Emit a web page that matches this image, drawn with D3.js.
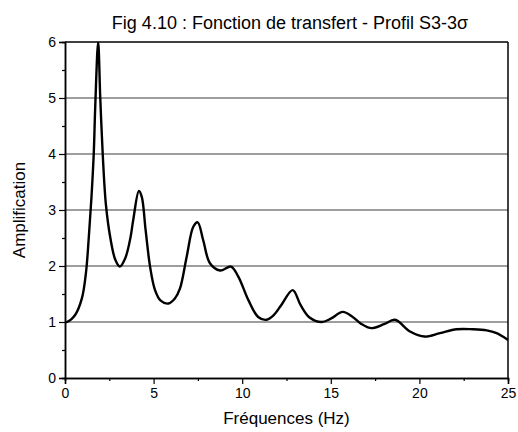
<!DOCTYPE html>
<html>
<head>
<meta charset="utf-8">
<script src="https://cdn.jsdelivr.net/npm/d3@7"></script>
<style>
  html, body { margin: 0; padding: 0; background: #fff; }
  svg { display: block; font-family: "Liberation Sans", Arial, sans-serif; }
</style>
</head>
<body>
<svg id="chart" width="518" height="432"></svg>
<script>
// Transfer function, profile S3-3σ: amplification versus frequency
const freqHz = [
  0.0, 0.11, 0.58, 0.96, 1.19, 1.34, 1.49, 1.62, 1.71, 1.87, 1.99, 2.13, 2.31, 2.56, 2.84, 3.09,
  3.4, 3.69, 3.85, 4.17, 4.33, 4.55, 4.8, 5.08, 5.4, 5.83, 6.2, 6.49, 6.87, 7.24, 7.49, 7.8, 8.18,
  8.75, 9.37, 9.78, 10.35, 10.9, 11.37, 11.8, 12.2, 12.85, 13.3, 13.8, 14.48, 15.0, 15.67,
  16.2, 16.7, 17.3, 18.0, 18.62, 19.47, 20.3, 21.16, 22.1, 23.0, 23.8, 24.36, 25.0
];
const amplification = [
  1.0, 1.0, 1.13, 1.43, 1.9, 2.5, 3.21, 3.99, 4.88, 6.0, 5.0, 3.99, 3.09, 2.5, 2.11, 1.99,
  2.14, 2.5, 2.82, 3.34, 3.24, 2.64, 1.99, 1.57, 1.38, 1.33, 1.42, 1.6, 2.17, 2.7, 2.78, 2.46, 2.05,
  1.92, 1.99, 1.81, 1.39, 1.09, 1.04, 1.13, 1.3, 1.57, 1.3, 1.08, 1.0, 1.06, 1.18,
  1.1, 0.97, 0.89, 0.96, 1.04, 0.83, 0.74, 0.8, 0.87, 0.87, 0.85, 0.8, 0.68
];
const xTicks = [0, 5, 10, 15, 20, 25];
const xMinorTicks = [2.5, 7.5, 12.5, 17.5, 22.5];
const yTicks = [0, 1, 2, 3, 4, 5, 6];
const yMinorTicks = [0.5, 1.5, 2.5, 3.5, 4.5, 5.5];
const gridValues = [1, 2, 3, 4, 5];

const titleText = "Fig 4.10 : Fonction de transfert - Profil S3-3σ";
const xTitle = "Fréquences (Hz)";
const yTitle = "Amplification";

const svg = d3.select("#chart");
const m = { left: 65, right: 508, top: 42, bottom: 378 };

const x = d3.scaleLinear().domain([0, 25]).range([m.left, m.right]);
const y = d3.scaleLinear().domain([0, 6]).range([m.bottom, m.top]);

// horizontal grid lines
svg.append("g")
  .selectAll("line")
  .data(gridValues)
  .join("line")
  .attr("x1", m.left).attr("x2", m.right)
  .attr("y1", d => y(d)).attr("y2", d => y(d))
  .attr("stroke", "#3c3c3c")
  .attr("stroke-width", 1);

// clip the curve to the plot frame
svg.append("clipPath").attr("id", "plotClip")
  .append("rect")
  .attr("x", m.left).attr("y", m.top)
  .attr("width", m.right - m.left).attr("height", m.bottom - m.top);

const line = d3.line()
  .x((d, i) => x(freqHz[i]))
  .y(d => y(d))
  .curve(d3.curveCatmullRom.alpha(0.5));

svg.append("path")
  .datum(amplification)
  .attr("clip-path", "url(#plotClip)")
  .attr("fill", "none")
  .attr("stroke", "#000")
  .attr("stroke-width", 2.4)
  .attr("stroke-linejoin", "round")
  .attr("d", line);

// axes
const xAxis = svg.append("g")
  .attr("transform", `translate(0,${m.bottom})`)
  .call(d3.axisBottom(x).tickValues(xTicks).tickSize(6).tickPadding(4).tickFormat(d3.format("d")));
const xMinor = svg.append("g")
  .attr("transform", `translate(0,${m.bottom})`)
  .call(d3.axisBottom(x).tickValues(xMinorTicks).tickSize(3).tickFormat(""));

const yAxis = svg.append("g")
  .attr("transform", `translate(${m.left},0)`)
  .call(d3.axisLeft(y).tickValues(yTicks).tickSize(6).tickPadding(3).tickFormat(d3.format("d")));
const yMinor = svg.append("g")
  .attr("transform", `translate(${m.left},0)`)
  .call(d3.axisLeft(y).tickValues(yMinorTicks).tickSize(3).tickFormat(""));

[xAxis, xMinor, yAxis, yMinor].forEach(g => {
  g.select(".domain").attr("stroke", "#000").attr("stroke-width", 1.5);
  g.selectAll(".tick line").attr("stroke", "#000").attr("stroke-width", 1.2);
  g.selectAll("text")
    .attr("fill", "#000")
    .style("font-family", "'Liberation Sans', Arial, sans-serif")
    .style("font-size", "14px");
});

// top and right frame
svg.append("line")
  .attr("x1", m.left).attr("x2", m.right)
  .attr("y1", m.top).attr("y2", m.top)
  .attr("stroke", "#000").attr("stroke-width", 1.5);
svg.append("line")
  .attr("x1", m.right).attr("x2", m.right)
  .attr("y1", m.top).attr("y2", m.bottom)
  .attr("stroke", "#000").attr("stroke-width", 1.5);

// titles
svg.append("text")
  .attr("x", 290).attr("y", 29)
  .attr("text-anchor", "middle")
  .style("font-size", "18px")
  .attr("fill", "#000")
  .text(titleText);

svg.append("text")
  .attr("x", (m.left + m.right) / 2).attr("y", 424)
  .attr("text-anchor", "middle")
  .style("font-size", "17px")
  .attr("fill", "#000")
  .text(xTitle);

svg.append("text")
  .attr("transform", `translate(25,${(m.top + m.bottom) / 2}) rotate(-90)`)
  .attr("text-anchor", "middle")
  .style("font-size", "17px")
  .attr("fill", "#000")
  .text(yTitle);
</script>
</body>
</html>
